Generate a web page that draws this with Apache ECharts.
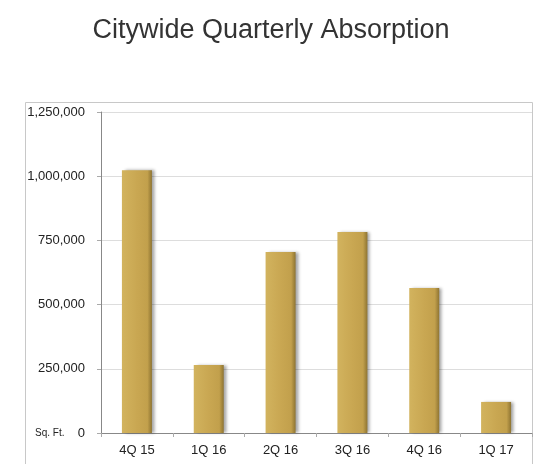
<!DOCTYPE html>
<html>
<head>
<meta charset="utf-8">
<script src="https://cdn.jsdelivr.net/npm/echarts@6/dist/echarts.min.js"></script>
<style>html,body{margin:0;padding:0;background:#fff}#c{width:542px;height:464px}</style>
</head>
<body>
<div id="c"></div>
<script>
const categories = ['4Q 15', '1Q 16', '2Q 16', '3Q 16', '4Q 16', '1Q 17'];
const absorption = [1023000, 265000, 705000, 783000, 565000, 121000];
const yTicks = [0, 250000, 500000, 750000, 1000000, 1250000];

const chart = echarts.init(document.getElementById('c'), null, {renderer: 'canvas'});
const fmt = v => v.toLocaleString('en-US');
chart.setOption({
  animation: false,
  backgroundColor: '#fff',
  title: {
    text: 'Citywide Quarterly Absorption',
    left: 'center', top: 12,
    textStyle: {fontFamily: 'Liberation Sans', fontSize: 27, fontWeight: 'normal', color: '#333'}
  },
  graphic: [
    {type: 'rect', shape: {x: 25.5, y: 102.5, width: 507, height: 380}, style: {fill: 'none', stroke: '#c8c8c8', lineWidth: 1}, silent: true, z: -1},
    {type: 'text', x: 35, y: 428, style: {text: 'Sq. Ft.', font: '10px Liberation Sans', fill: '#222'}}
  ],
  grid: {left: 101, right: 10, top: 112, bottom: 31, containLabel: false},
  xAxis: {
    type: 'category', data: categories,
    axisLine: {lineStyle: {color: '#888'}},
    axisTick: {show: true, length: 4, lineStyle: {color: '#aaa'}},
    axisLabel: {color: '#222', fontFamily: 'Liberation Sans', fontSize: 13, margin: 11}
  },
  yAxis: {
    type: 'value', min: 0, max: yTicks[yTicks.length - 1], interval: 250000,
    axisLine: {show: true, lineStyle: {color: '#888'}},
    axisTick: {show: true, length: 4, lineStyle: {color: '#aaa'}},
    splitLine: {lineStyle: {color: '#ddd'}},
    axisLabel: {color: '#222', fontFamily: 'Liberation Sans', fontSize: 13, margin: 16, formatter: v => fmt(v)}
  },
  series: [{
    type: 'bar', data: absorption, barWidth: 30,
    itemStyle: {
      color: new echarts.graphic.LinearGradient(0, 0, 1, 0, [
        {offset: 0, color: '#d2b35e'},
        {offset: 0.5, color: '#c9a752'},
        {offset: 0.85, color: '#c2a04c'},
        {offset: 1, color: '#8e7432'}
      ]),
      shadowColor: 'rgba(0,0,0,0.35)', shadowBlur: 3, shadowOffsetX: 3, shadowOffsetY: 0
    }
  }]
});
</script>
</body>
</html>
